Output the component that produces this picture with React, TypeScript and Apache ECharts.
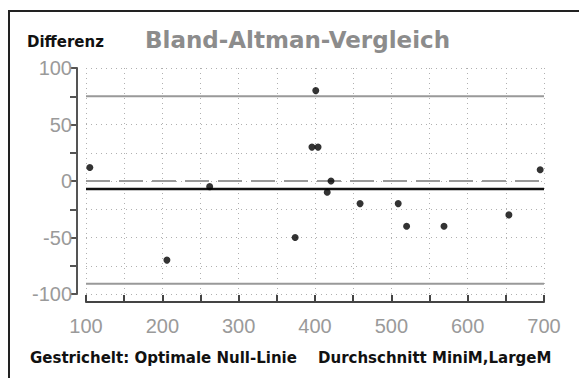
import React, { useEffect, useRef } from "react";
import * as echarts from "echarts";

const xValues = [105, 206, 262, 374, 396, 401, 404, 416, 421, 459, 509, 520, 569, 654, 695];
const yValues = [12, -70, -5, -50, 30, 80, 30, -10, 0, -20, -20, -40, -40, -30, 10];
const upperLimit = 75;
const lowerLimit = -91;
const meanDiff = -7;
const optimalLine = 0;
const xRange = [100, 700];
const yRange = [-100, 100];
const titleText = "Bland-Altman-Vergleich";
const yAxisTitle = "Differenz";
const footLeft = "Gestrichelt: Optimale Null-Linie";
const footRight = "Durchschnitt MiniM,LargeM";

export default function App() {
  const ref = useRef<HTMLDivElement>(null);
  useEffect(() => {
    const chart = echarts.init(ref.current!, null, { renderer: "svg" });
    const hLine = (v: number) => [[xRange[0], v], [xRange[1], v]];
    const labelFont = {
      fontFamily: "Liberation Sans",
      fontSize: 20,
      color: "#9a9a9a",
    };
    const boldFont = "DejaVu Sans";
    chart.setOption({
      animation: false,
      grid: { left: 86, right: 35, top: 68, bottom: 84 },
      xAxis: {
        type: "value",
        min: xRange[0],
        max: xRange[1],
        interval: 50,
        offset: 8,
        axisLine: { show: true, onZero: false, lineStyle: { color: "#444", width: 2 } },
        axisTick: { show: true, inside: true, length: 7, lineStyle: { color: "#444", width: 2 } },
        axisLabel: {
          ...labelFont,
          margin: 14,
          formatter: (v: number) => (v % 100 === 0 ? String(v) : ""),
        },
        splitLine: { show: true, lineStyle: { color: "#b0b0b0", type: [1, 4], width: 1 } },
      },
      yAxis: {
        type: "value",
        min: yRange[0],
        max: yRange[1],
        interval: 25,
        offset: 9,
        axisLine: { show: true, onZero: false, lineStyle: { color: "#555", width: 2 } },
        axisTick: { show: true, length: 7, lineStyle: { color: "#555", width: 2 } },
        axisLabel: {
          ...labelFont,
          margin: 5,
          formatter: (v: number) => (v % 50 === 0 ? String(v) : ""),
        },
        splitLine: { show: true, lineStyle: { color: "#b0b0b0", type: [1, 4], width: 1 } },
      },
      series: [
        {
          type: "line",
          data: hLine(upperLimit),
          symbol: "none",
          lineStyle: { color: "#999", width: 2 },
        },
        {
          type: "line",
          data: hLine(lowerLimit),
          symbol: "none",
          lineStyle: { color: "#999", width: 2 },
        },
        {
          type: "line",
          data: hLine(optimalLine),
          symbol: "none",
          lineStyle: { color: "#999", width: 2, type: [24, 9] },
        },
        {
          type: "line",
          data: hLine(meanDiff),
          symbol: "none",
          lineStyle: { color: "#111", width: 2.5 },
        },
        {
          type: "scatter",
          data: xValues.map((x, i) => [x, yValues[i]]),
          symbolSize: 7,
          itemStyle: { color: "#000" },
          z: 5,
        },
      ],
      graphic: [
        {
          type: "rect",
          shape: { x: 9, y: 11, width: 620, height: 420 },
          style: { fill: "none", stroke: "#222", lineWidth: 2 },
        },
        {
          type: "text",
          x: 145,
          y: 40,
          style: {
            text: titleText,
            fontFamily: boldFont,
            fontWeight: "bold",
            fontSize: 23,
            fill: "#8c8c8c",
            textVerticalAlign: "middle",
          },
        },
        {
          type: "text",
          x: 27,
          y: 42,
          style: {
            text: yAxisTitle,
            fontFamily: boldFont,
            fontWeight: "bold",
            fontSize: 15,
            fill: "#111",
            textVerticalAlign: "middle",
          },
        },
        {
          type: "text",
          x: 30,
          y: 358,
          style: {
            text: footLeft,
            fontFamily: boldFont,
            fontWeight: "bold",
            fontSize: 15,
            fill: "#111",
            textVerticalAlign: "middle",
          },
        },
        {
          type: "text",
          x: 318,
          y: 358,
          style: {
            text: footRight,
            fontFamily: boldFont,
            fontWeight: "bold",
            fontSize: 15,
            fill: "#111",
            textVerticalAlign: "middle",
          },
        },
      ],
    });
    return () => chart.dispose();
  }, []);
  return (
    <div
      ref={ref}
      style={{ position: "fixed", left: 0, top: 0, width: 579, height: 378, background: "#fff" }}
    />
  );
}
